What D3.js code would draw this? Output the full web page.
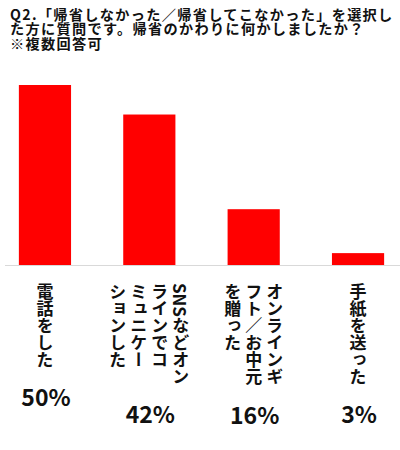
<!DOCTYPE html>
<html>
<head>
<meta charset="utf-8">
<style>
  body { margin: 0; background: #fff; }
  svg { display: block; }
  text { font-family: "Noto Sans CJK JP", "Noto Sans", sans-serif; font-weight: bold; fill: #111; }
</style>
<script src="https://cdn.jsdelivr.net/npm/d3@7"></script>
</head>
<body>
<div id="chart"></div>
<script>
// data
var titleLines = [
  "Q2.「帰省しなかった／帰省してこなかった」を選択し",
  "た方に質問です。帰省のかわりに何かしましたか？",
  "※複数回答可"
];
var categories = ["電話をした", "SNSなどオンラインでコミュニケーションした", "オンラインギフト／お中元を贈った", "手紙を送った"];
// how each category label is broken into vertical columns (right to left)
var categoryLines = [
  ["電話をした"],
  ["SNSなどオン", "ラインでコ", "ミュニケー", "ションした"],
  ["オンラインギ", "フト／お中元", "を贈った"],
  ["手紙を送った"]
];
var values = [50, 41.8, 15.5, 3.3];

var width = 400, height = 450;

var svg = d3.select("#chart").append("svg")
    .attr("width", width)
    .attr("height", height);

svg.append("rect")
    .attr("width", width)
    .attr("height", height)
    .attr("fill", "#fff");

// title: one text block, one tspan per line
svg.append("text")
    .attr("class", "title")
    .attr("font-size", 14.2)
    .attr("letter-spacing", 1.3)
  .selectAll("tspan")
    .data(titleLines)
  .enter().append("tspan")
    .attr("x", 10)
    .attr("y", function(d, i) { return 19.5 + i * 14.6; })
    .text(function(d) { return d; });

// scales
var x = d3.scaleBand()
    .domain(categories)
    .range([-2, 405])
    .paddingInner(0.5)
    .paddingOuter(0.2);

var y = d3.scaleLinear()
    .domain([0, 50])
    .range([265, 85]);

// base line
svg.append("line")
    .attr("x1", 5)
    .attr("x2", 400)
    .attr("y1", y(0) + 0.5)
    .attr("y2", y(0) + 0.5)
    .attr("stroke", "#d9d9d9")
    .attr("stroke-width", 1);

// bars
svg.selectAll("rect.bar")
    .data(values)
  .enter().append("rect")
    .attr("class", "bar")
    .attr("x", function(d, i) { return x(categories[i]); })
    .attr("width", x.bandwidth())
    .attr("y", function(d) { return y(d); })
    .attr("height", function(d) { return y(0) - y(d); })
    .attr("fill", "#ff0000");

// vertical category labels
var colGap = 21;
var labels = svg.selectAll("g.lab")
    .data(categories)
  .enter().append("g")
    .attr("class", "lab");

labels.each(function(cat, i) {
  var g = d3.select(this);
  var lines = categoryLines[i];
  var cx = x(cat) + x.bandwidth() / 2;
  g.selectAll("text")
      .data(lines)
    .enter().append("text")
      .attr("x", function(d, j) { return cx + ((lines.length - 1) / 2 - j) * colGap; })
      .attr("y", 283)
      .attr("font-size", 17)
      .style("writing-mode", "vertical-rl")
      .text(function(d) { return d; });

  var bb = this.getBBox();
  svg.append("text")
      .attr("x", cx + 1)
      .attr("y", bb.y + bb.height + 38)
      .attr("text-anchor", "middle")
      .attr("font-size", 23)
      .text(Math.round(values[i]) + "%");
});
</script>
</body>
</html>
